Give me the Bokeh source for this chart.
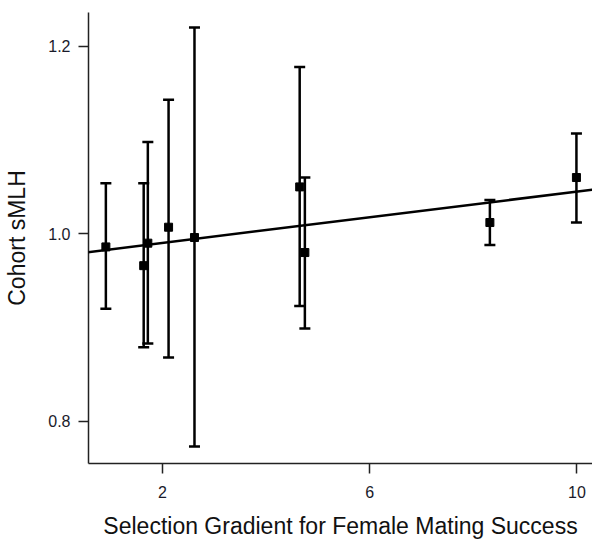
from bokeh.plotting import figure
from bokeh.models import ColumnDataSource, Whisker, TeeHead, Slope, FixedTicker, Range1d, NumeralTickFormatter
from bokeh.embed import file_html
from bokeh.resources import INLINE

# Data
gradient = [0.91, 1.64, 1.72, 2.12, 2.62, 4.65, 4.75, 8.32, 9.99]
smlh = [0.986, 0.966, 0.990, 1.007, 0.996, 1.050, 0.980, 1.012, 1.060]
upper = [1.054, 1.054, 1.098, 1.143, 1.220, 1.178, 1.060, 1.036, 1.107]
lower = [0.920, 0.879, 0.883, 0.868, 0.773, 0.923, 0.899, 0.988, 1.012]
fit_slope = 0.00685
fit_intercept = 0.9765
x_ticks = [2, 6, 10]
y_ticks = [0.8, 1.0, 1.2]

src = ColumnDataSource(dict(x=gradient, y=smlh, upper=upper, lower=lower))

p = figure(width=592, height=541, output_backend="svg", toolbar_location=None,
           x_range=Range1d(0.575, 10.3), y_range=Range1d(0.755, 1.236),
           min_border_left=88, min_border_right=0, min_border_top=12, min_border_bottom=78)
p.outline_line_color = None
p.xgrid.visible = False
p.ygrid.visible = False
p.background_fill_color = "white"
p.border_fill_color = "white"

font = "Liberation Sans"
for ax in (p.xaxis[0], p.yaxis[0]):
    ax.axis_line_color = "#222222"
    ax.axis_line_width = 1.5
    ax.major_tick_line_color = "#222222"
    ax.major_tick_line_width = 1.5
    ax.major_tick_out = 10
    ax.major_tick_in = 0
    ax.minor_tick_line_color = None
    ax.major_label_text_font = font
    ax.major_label_text_font_size = "16px"
    ax.major_label_text_color = "#1a1a2a"
    ax.axis_label_text_font = font
    ax.axis_label_text_font_size = "23px"
    ax.axis_label_text_font_style = "normal"
    ax.axis_label_text_color = "#111111"

p.xaxis.ticker = FixedTicker(ticks=x_ticks)
p.yaxis.ticker = FixedTicker(ticks=y_ticks)
p.yaxis.formatter = NumeralTickFormatter(format="0.0")
p.yaxis.major_label_orientation = "horizontal"
p.xaxis.axis_label = "Selection Gradient for Female Mating Success"
p.yaxis.axis_label = "Cohort sMLH"
p.xaxis.major_label_standoff = 12
p.xaxis.axis_label_standoff = 12
p.yaxis.major_label_standoff = 8
p.yaxis.axis_label_standoff = 15

p.add_layout(Slope(gradient=fit_slope, y_intercept=fit_intercept,
                   line_color="black", line_width=2.5))

w = Whisker(source=src, base="x", upper="upper", lower="lower",
            line_color="black", line_width=2.5,
            upper_head=TeeHead(size=11, line_color="black", line_width=2.5),
            lower_head=TeeHead(size=11, line_color="black", line_width=2.5))
p.add_layout(w)

p.scatter("x", "y", source=src, marker="square", size=8, color="black")

open("out.html", "w").write(file_html(p, INLINE))
